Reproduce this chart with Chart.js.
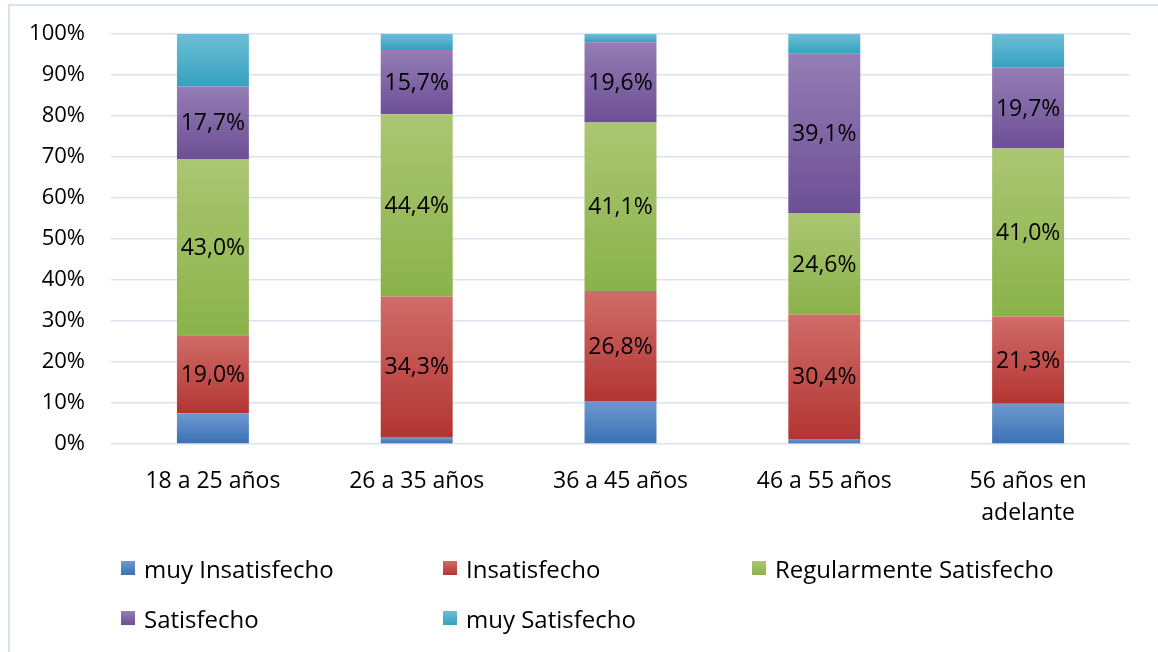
<!DOCTYPE html>
<html>
<head>
<meta charset="utf-8">
<script src="https://cdn.jsdelivr.net/npm/chart.js@4.4.1/dist/chart.umd.min.js"></script>
<style>
  html, body { margin: 0; padding: 0; background: #fff; }
  #wrap { position: relative; width: 1158px; height: 652px; overflow: hidden; }
  #frame { position: absolute; left: 8px; top: 4px; width: 1200px; height: 700px;
           border-top: 2px solid #d9e3f1; border-left: 2px solid #d9e3f1; }
  canvas { position: absolute; left: 0; top: 0; }
  .leg { position: absolute; font-family: "Open Sans", sans-serif; font-size: 24px; color: #000;
         display: flex; align-items: center; white-space: nowrap; }
  .leg i { display: inline-block; width: 14px; height: 14px; margin-right: 9px; }
</style>
</head>
<body>
<div id="wrap">
  <div id="frame"></div>
  <canvas id="c" width="1158" height="652"></canvas>
  <div id="legend"></div>
</div>
<script>
const categories = ['18 a 25 años', '26 a 35 años', '36 a 45 años', '46 a 55 años', ['56 años en', 'adelante']];
const seriesNames = ['muy Insatisfecho', 'Insatisfecho', 'Regularmente Satisfecho', 'Satisfecho', 'muy Satisfecho'];
const muyInsatisfecho = [7.5, 1.7, 10.5, 1.2, 9.8];
const insatisfecho = [19.0, 34.3, 26.8, 30.4, 21.3];
const regularmenteSatisfecho = [43.0, 44.4, 41.1, 24.6, 41.0];
const satisfecho = [17.7, 15.7, 19.6, 39.1, 19.7];
const muySatisfecho = [12.8, 3.9, 2.0, 4.7, 8.2];
const yTicks = [0, 10, 20, 30, 40, 50, 60, 70, 80, 90, 100];
const labelledSeries = [false, true, true, true, false];

const seriesData = [muyInsatisfecho, insatisfecho, regularmenteSatisfecho, satisfecho, muySatisfecho];
const gradColors = [
  ['#6e99d0', '#3b70b4'],
  ['#d06c68', '#b23532'],
  ['#abc672', '#8ab24a'],
  ['#957db5', '#6c4f95'],
  ['#6dbed6', '#36a1bf']
];
const FONT = '"Open Sans", sans-serif';

function segGradient(context) {
  const chart = context.chart;
  const ds = context.datasetIndex, i = context.dataIndex;
  const cols = gradColors[ds];
  const ys = chart.scales && chart.scales.y;
  if (!ys || i === undefined) return cols[1];
  let start = 0;
  for (let k = 0; k < ds; k++) start += seriesData[k][i];
  const end = start + seriesData[ds][i];
  const top = ys.getPixelForValue(end), bottom = ys.getPixelForValue(start);
  if (!isFinite(top) || !isFinite(bottom) || top === bottom) return cols[1];
  const g = chart.ctx.createLinearGradient(0, top, 0, bottom);
  g.addColorStop(0, cols[0]);
  g.addColorStop(1, cols[1]);
  return g;
}

const labelPlugin = {
  id: 'segLabels',
  afterDatasetsDraw(chart) {
    const ctx = chart.ctx;
    ctx.save();
    ctx.font = '23px ' + FONT;
    ctx.fillStyle = '#000';
    ctx.textAlign = 'center';
    ctx.textBaseline = 'middle';
    chart.data.datasets.forEach((d, ds) => {
      if (!labelledSeries[ds]) return;
      chart.getDatasetMeta(ds).data.forEach((el, i) => {
        const v = d.data[i];
        ctx.fillText(v.toFixed(1).replace('.', ',') + '%', el.x, (el.y + el.base) / 2 + 1);
      });
    });
    ctx.restore();
  }
};

new Chart(document.getElementById('c'), {
  type: 'bar',
  data: {
    labels: categories,
    datasets: seriesNames.map((n, k) => ({
      label: n,
      data: seriesData[k],
      backgroundColor: segGradient,
      borderWidth: 0,
      categoryPercentage: 1.0,
      barPercentage: 0.353
    }))
  },
  options: {
    responsive: false,
    animation: false,
    events: [],
    layout: { padding: { top: 34, right: 28, left: 0, bottom: 0 } },
    plugins: { legend: { display: false }, tooltip: { enabled: false } },
    scales: {
      x: {
        stacked: true,
        grid: { display: false },
        border: { display: false },
        ticks: { color: '#000', font: { family: FONT, size: 23, lineHeight: 1.4 }, padding: 13, maxRotation: 0 },
        afterFit(s) { s.height = 652 - 444; s.paddingLeft = 0; s.paddingRight = 0; }
      },
      y: {
        stacked: true,
        min: 0, max: 100,
        afterBuildTicks(s) { s.ticks = yTicks.map(v => ({ value: v })); },
        grid: { color: '#d9e3f1', lineWidth: 1.5, drawTicks: false },
        border: { display: false },
        ticks: { color: '#000', font: { family: FONT, size: 22 }, padding: 26, callback: v => v + '%' },
        afterFit(s) { s.width = 111; s.paddingTop = 0; s.paddingBottom = 0; }
      }
    }
  },
  plugins: [labelPlugin]
});

// HTML legend in a 3-column grid
const legendPos = [
  [121, 568], [443, 568], [752, 568],
  [121, 618], [443, 618]
];
const leg = document.getElementById('legend');
seriesNames.forEach((n, k) => {
  const d = document.createElement('div');
  d.className = 'leg';
  d.style.left = legendPos[k][0] + 'px';
  d.style.top = (legendPos[k][1] - 16) + 'px';
  d.style.height = '32px';
  const sw = document.createElement('i');
  sw.style.background = 'linear-gradient(' + gradColors[k][0] + ',' + gradColors[k][1] + ')';
  d.appendChild(sw);
  d.appendChild(document.createTextNode(n));
  leg.appendChild(d);
});
</script>
</body>
</html>
